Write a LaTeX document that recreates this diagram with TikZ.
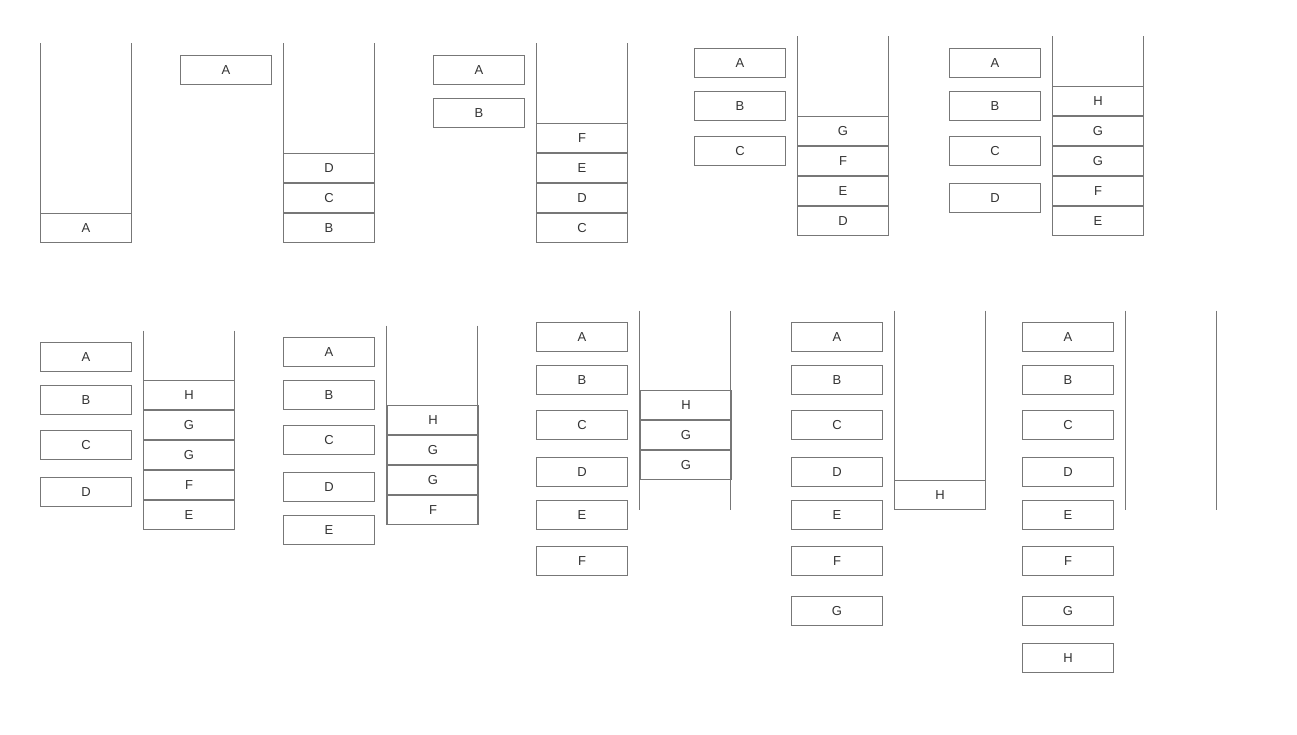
\documentclass[tikz,border=0pt]{standalone}
\usepackage{fontspec}
\setmainfont{Liberation Sans}
\definecolor{edge}{HTML}{777777}
\definecolor{ink}{HTML}{333333}
\tikzset{
  box/.style={draw=edge, line width=1pt, minimum width=91pt, minimum height=29.3pt,
    inner sep=0pt, outer sep=0pt, anchor=north west, text=ink,
    font=\fontsize{13}{15}\selectfont},
  wall/.style={draw=edge, line width=1pt}
}
\begin{document}
\begin{tikzpicture}[x=1pt,y=-1pt]
\useasboundingbox[fill=white] (0,0) rectangle (1297,735);
\begin{scope}[shift={(0.5,0.5)}]
% ---------- panel 1
\draw[wall] (40,43) -- (40,242) (131,43) -- (131,242);
\node[box] (p1sA) at (40,213) {A};
% ---------- panel 2
\node[box] (p2fA) at (180,55) {A};
\draw[wall] (283,43) -- (283,242) (374,43) -- (374,242);
\node[box] (p2sD) at (283,153) {D};
\node[box] (p2sC) at (283,183) {C};
\node[box] (p2sB) at (283,213) {B};
% ---------- panel 3
\node[box] (p3fA) at (433,55) {A};
\node[box] (p3fB) at (433,98) {B};
\draw[wall] (536,43) -- (536,242) (627,43) -- (627,242);
\node[box] (p3sF) at (536,123) {F};
\node[box] (p3sE) at (536,153) {E};
\node[box] (p3sD) at (536,183) {D};
\node[box] (p3sC) at (536,213) {C};
% ---------- panel 4
\node[box] (p4fA) at (694,48) {A};
\node[box] (p4fB) at (694,91) {B};
\node[box] (p4fC) at (694,136) {C};
\draw[wall] (797,36) -- (797,235) (888,36) -- (888,235);
\node[box] (p4sG) at (797,116) {G};
\node[box] (p4sF) at (797,146) {F};
\node[box] (p4sE) at (797,176) {E};
\node[box] (p4sD) at (797,206) {D};
% ---------- panel 5
\node[box] (p5fA) at (949,48) {A};
\node[box] (p5fB) at (949,91) {B};
\node[box] (p5fC) at (949,136) {C};
\node[box] (p5fD) at (949,183) {D};
\draw[wall] (1052,36) -- (1052,235) (1143,36) -- (1143,235);
\node[box] (p5sH) at (1052,86) {H};
\node[box] (p5sG1) at (1052,116) {G};
\node[box] (p5sG2) at (1052,146) {G};
\node[box] (p5sF) at (1052,176) {F};
\node[box] (p5sE) at (1052,206) {E};
% ---------- panel 6
\node[box] (p6fA) at (40,342) {A};
\node[box] (p6fB) at (40,385) {B};
\node[box] (p6fC) at (40,430) {C};
\node[box] (p6fD) at (40,477) {D};
\draw[wall] (143,330) -- (143,529) (234,330) -- (234,529);
\node[box] (p6sH) at (143,380) {H};
\node[box] (p6sG1) at (143,410) {G};
\node[box] (p6sG2) at (143,440) {G};
\node[box] (p6sF) at (143,470) {F};
\node[box] (p6sE) at (143,500) {E};
% ---------- panel 7
\node[box] (p7fA) at (283,337) {A};
\node[box] (p7fB) at (283,380) {B};
\node[box] (p7fC) at (283,425) {C};
\node[box] (p7fD) at (283,472) {D};
\node[box] (p7fE) at (283,515) {E};
\draw[wall] (386,325) -- (386,524) (477,325) -- (477,524);
\node[box] (p7sH) at (387,405) {H};
\node[box] (p7sG1) at (387,435) {G};
\node[box] (p7sG2) at (387,465) {G};
\node[box] (p7sF) at (387,495) {F};
% ---------- panel 8
\node[box] (p8fA) at (536,322) {A};
\node[box] (p8fB) at (536,365) {B};
\node[box] (p8fC) at (536,410) {C};
\node[box] (p8fD) at (536,457) {D};
\node[box] (p8fE) at (536,500) {E};
\node[box] (p8fF) at (536,546) {F};
\draw[wall] (639,310) -- (639,509) (730,310) -- (730,509);
\node[box] (p8sH) at (640,390) {H};
\node[box] (p8sG1) at (640,420) {G};
\node[box] (p8sG2) at (640,450) {G};
% ---------- panel 9
\node[box] (p9fA) at (791,322) {A};
\node[box] (p9fB) at (791,365) {B};
\node[box] (p9fC) at (791,410) {C};
\node[box] (p9fD) at (791,457) {D};
\node[box] (p9fE) at (791,500) {E};
\node[box] (p9fF) at (791,546) {F};
\node[box] (p9fG) at (791,596) {G};
\draw[wall] (894,310) -- (894,509) (985,310) -- (985,509);
\node[box] (p9sH) at (894,480) {H};
% ---------- panel 10
\node[box] (p10fA) at (1022,322) {A};
\node[box] (p10fB) at (1022,365) {B};
\node[box] (p10fC) at (1022,410) {C};
\node[box] (p10fD) at (1022,457) {D};
\node[box] (p10fE) at (1022,500) {E};
\node[box] (p10fF) at (1022,546) {F};
\node[box] (p10fG) at (1022,596) {G};
\node[box] (p10fH) at (1022,643) {H};
\draw[wall] (1125,310) -- (1125,509) (1216,310) -- (1216,509);
\end{scope}
\end{tikzpicture}
\end{document}
